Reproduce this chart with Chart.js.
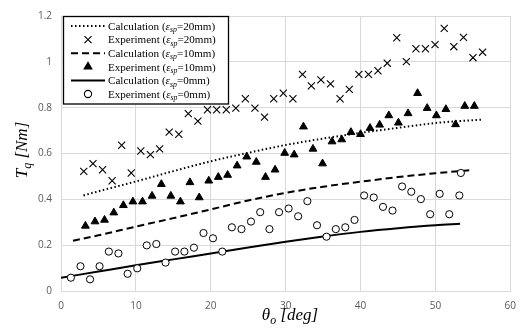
<!DOCTYPE html>
<html>
<head>
<meta charset="utf-8">
<script src="https://cdn.jsdelivr.net/npm/chart.js@4"></script>
<style>
  body { margin: 0; background: #fff; }
  #wrap { width: 525px; height: 332px; }
</style>
</head>
<body>
<div id="wrap"><canvas id="torque" width="525" height="332"></canvas></div>
<script>
// calculated curves
const calc20X = [3, 5, 10, 15, 20, 25, 30, 35, 40, 45, 50, 56.2];
const calc20Y = [0.417, 0.435, 0.478, 0.523, 0.566, 0.603, 0.637, 0.665, 0.69, 0.712, 0.733, 0.748];
const calc10X = [1.6, 5, 10, 15, 20, 25, 30, 35, 40, 45, 50, 54.7];
const calc10Y = [0.219, 0.243, 0.281, 0.318, 0.356, 0.395, 0.428, 0.455, 0.477, 0.497, 0.514, 0.527];
const calc0X = [0, 5, 10, 15, 20, 25, 30, 35, 40, 45, 50, 53.3];
const calc0Y = [0.058, 0.085, 0.112, 0.138, 0.164, 0.19, 0.215, 0.238, 0.258, 0.274, 0.287, 0.293];

// measured points
const exp20X = [3.04, 4.27, 5.55, 6.83, 8.1, 9.38, 10.66, 11.94, 13.17, 14.45, 15.73, 17.0, 18.28, 19.56, 20.79, 22.07, 23.35, 24.62, 25.9, 27.18, 28.41, 29.69, 30.97, 32.25, 33.43, 34.71, 35.99, 37.27, 38.5, 39.78, 41.06, 42.33, 43.57, 44.84, 46.12, 47.4, 48.67, 49.95, 51.18, 52.46, 53.75, 55.02, 56.3];
const exp20Y = [0.522, 0.556, 0.529, 0.481, 0.636, 0.515, 0.611, 0.595, 0.62, 0.693, 0.684, 0.774, 0.741, 0.791, 0.791, 0.791, 0.798, 0.839, 0.798, 0.759, 0.839, 0.863, 0.839, 0.945, 0.895, 0.921, 0.904, 0.839, 0.88, 0.945, 0.945, 0.961, 0.994, 1.105, 1.001, 1.057, 1.057, 1.075, 1.146, 1.066, 1.107, 1.018, 1.042];
const exp10X = [3.26, 4.54, 5.81, 7.05, 8.33, 9.6, 10.88, 12.16, 13.4, 14.67, 15.95, 17.22, 18.46, 19.73, 21.01, 22.25, 23.52, 24.8, 26.08, 27.31, 28.59, 29.87, 31.14, 32.38, 33.65, 34.93, 36.2, 37.49, 38.72, 40.0, 41.27, 42.55, 43.78, 45.06, 46.35, 47.62, 48.9, 50.13, 51.4, 52.69, 53.92, 55.2];
const exp10Y = [0.284, 0.303, 0.31, 0.342, 0.374, 0.39, 0.39, 0.415, 0.466, 0.415, 0.39, 0.474, 0.408, 0.481, 0.497, 0.506, 0.547, 0.586, 0.563, 0.497, 0.529, 0.602, 0.595, 0.717, 0.62, 0.556, 0.652, 0.661, 0.693, 0.684, 0.711, 0.725, 0.766, 0.734, 0.775, 0.863, 0.798, 0.766, 0.793, 0.727, 0.807, 0.807];
const exp0X = [1.32, 2.6, 3.88, 5.15, 6.39, 7.67, 8.9, 10.18, 11.45, 12.73, 13.96, 15.24, 16.48, 17.75, 19.03, 20.3, 21.54, 22.82, 24.1, 25.37, 26.6, 27.84, 29.12, 30.4, 31.67, 32.9, 34.19, 35.46, 36.7, 37.97, 39.2, 40.48, 41.76, 43.0, 44.27, 45.55, 46.78, 48.06, 49.3, 50.57, 51.85, 53.2, 53.4];
const exp0Y = [0.058, 0.108, 0.051, 0.108, 0.172, 0.164, 0.075, 0.099, 0.199, 0.205, 0.124, 0.172, 0.172, 0.189, 0.253, 0.23, 0.172, 0.278, 0.27, 0.303, 0.344, 0.27, 0.344, 0.36, 0.326, 0.392, 0.287, 0.237, 0.27, 0.278, 0.31, 0.417, 0.408, 0.367, 0.351, 0.456, 0.433, 0.401, 0.335, 0.424, 0.335, 0.417, 0.515];

const xTicks = [0, 10, 20, 30, 40, 50, 60];
const yTicks = [0, 0.2, 0.4, 0.6, 0.8, 1, 1.2];

const legendNames = ['Calculation', 'Experiment', 'Calculation', 'Experiment', 'Calculation', 'Experiment'];
const legendValues = ['20mm', '20mm', '10mm', '10mm', '0mm', '0mm'];

function pts(xs, ys) {
    return xs.map(function (x, i) { return { x: x, y: ys[i] }; });
}

const SERIF = '"Liberation Serif", "Times New Roman", serif';

// draws text pieces: [text, italic, sub]
function drawRich(ctx, parts, x, y, size, align) {
    var widths = parts.map(function (p) {
        ctx.font = (p[1] ? 'italic ' : '') + (p[2] ? size * 0.7 : size) + 'px ' + SERIF;
        return ctx.measureText(p[0]).width;
    });
    var total = widths.reduce(function (a, b) { return a + b; }, 0);
    var cx = align === 'center' ? x - total / 2 : x;
    ctx.textAlign = 'left';
    ctx.textBaseline = 'alphabetic';
    parts.forEach(function (p, i) {
        ctx.font = (p[1] ? 'italic ' : '') + (p[2] ? size * 0.7 : size) + 'px ' + SERIF;
        ctx.fillText(p[0], cx, p[2] ? y + size * 0.22 : y);
        cx += widths[i];
    });
}

const legendStyles = [
    { line: [1.5, 2.5] }, { point: 'crossRot', r: 5 },
    { line: [7, 4] }, { point: 'triangle', r: 4.5 },
    { line: [] }, { point: 'circle', r: 3.6 }
];

const annotatePlugin = {
    id: 'annotate',
    afterDraw: function (chart) {
        var ctx = chart.ctx;
        ctx.save();
        // legend box
        ctx.fillStyle = '#fff';
        ctx.fillRect(63.5, 16.5, 165, 87.5);
        ctx.strokeStyle = '#000';
        ctx.lineWidth = 1.3;
        ctx.strokeRect(63.5, 16.5, 165, 87.5);
        legendStyles.forEach(function (s, i) {
            var y = 26 + i * 13.6;
            ctx.strokeStyle = '#000';
            ctx.fillStyle = '#000';
            if (s.line) {
                ctx.lineWidth = 2;
                ctx.setLineDash(s.line);
                ctx.beginPath();
                ctx.moveTo(71, y);
                ctx.lineTo(105, y);
                ctx.stroke();
                ctx.setLineDash([]);
            } else {
                ctx.lineWidth = 1.1;
                ctx.fillStyle = s.point === 'circle' ? '#fff' : '#000';
                Chart.helpers.drawPoint(ctx, { pointStyle: s.point, radius: s.r, borderWidth: 1.1 }, 88, y);
                if (s.point !== 'circle') ctx.fill();
            }
            ctx.fillStyle = '#000';
            drawRich(ctx, [[legendNames[i] + ' (', false, false], ['\u03B5', true, false], ['sp', true, true], ['=' + legendValues[i] + ')', false, false]], 108, y + 3.8, 11.1, 'left');
        });
        // axis titles
        ctx.fillStyle = '#000';
        drawRich(ctx, [['\u03B8', true, false], ['o', true, true], [' [deg]', true, false]], 290, 320, 17, 'center');
        ctx.translate(27, 150);
        ctx.rotate(-Math.PI / 2);
        drawRich(ctx, [['T', true, false], ['q', true, true], [' [Nm]', true, false]], 0, 0, 17, 'center');
        ctx.restore();
    }
};

var ctx = document.getElementById('torque').getContext('2d');

var chart = new Chart(ctx, {
    type: 'scatter',
    data: {
        datasets: [
            { data: pts(exp20X, exp20Y), pointStyle: 'crossRot', pointRadius: 5, borderColor: '#000', borderWidth: 1.1, order: 0 },
            { data: pts(exp10X, exp10Y), pointStyle: 'triangle', pointRadius: 4.5, backgroundColor: '#000', borderColor: '#000', borderWidth: 1, order: 0 },
            { data: pts(exp0X, exp0Y), pointStyle: 'circle', pointRadius: 3.6, backgroundColor: '#fff', borderColor: '#000', borderWidth: 1, order: 0 },
            { data: pts(calc20X, calc20Y), showLine: true, pointRadius: 0, borderColor: '#000', borderWidth: 2, borderDash: [1.5, 2.5], cubicInterpolationMode: 'monotone', order: 1 },
            { data: pts(calc10X, calc10Y), showLine: true, pointRadius: 0, borderColor: '#000', borderWidth: 2, borderDash: [7, 4], cubicInterpolationMode: 'monotone', order: 1 },
            { data: pts(calc0X, calc0Y), showLine: true, pointRadius: 0, borderColor: '#000', borderWidth: 2, cubicInterpolationMode: 'monotone', order: 1 }
        ]
    },
    options: {
        responsive: false,
        animation: false,
        layout: { padding: { left: 0, right: 10, top: 16, bottom: 0 } },
        plugins: { legend: { display: false }, tooltip: { enabled: false } },
        scales: {
            x: {
                min: 0, max: 60,
                afterBuildTicks: function (s) { s.ticks = xTicks.map(function (v) { return { value: v }; }); },
                afterFit: function (s) { s.height = 41; },
                grid: { color: '#d9d9d9', drawTicks: false },
                border: { color: '#d9d9d9' },
                ticks: { padding: 9, color: '#595959', font: { family: '"Open Sans", sans-serif', size: 10 } }
            },
            y: {
                min: 0, max: 1.2,
                afterBuildTicks: function (s) { s.ticks = yTicks.map(function (v) { return { value: v }; }); },
                afterFit: function (s) { s.width = 61; },
                grid: { color: '#d9d9d9', drawTicks: false },
                border: { color: '#d9d9d9' },
                ticks: { padding: 9, color: '#595959', font: { family: '"Open Sans", sans-serif', size: 10 },
                    callback: function (v) { return String(Math.round(v * 10) / 10); } }
            }
        }
    },
    plugins: [annotatePlugin]
});
</script>
</body>
</html>
